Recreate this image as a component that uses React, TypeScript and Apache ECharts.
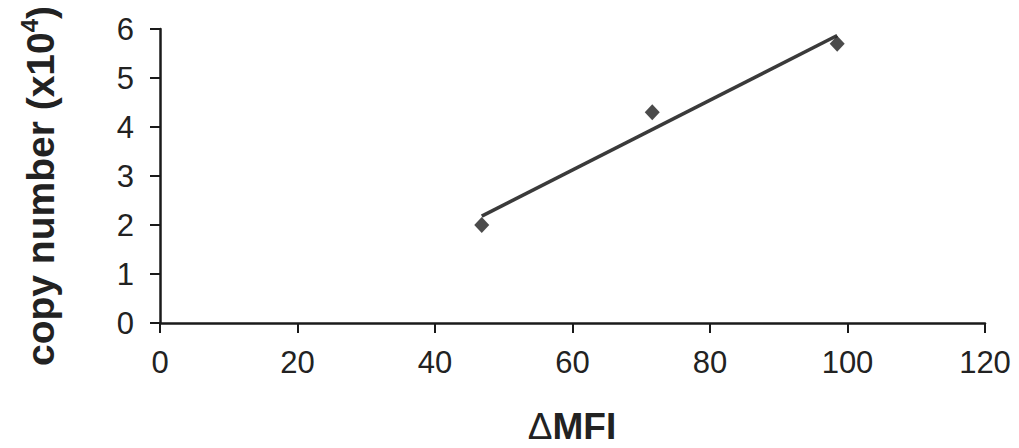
import React, { useEffect, useRef } from "react";
import * as echarts from "echarts";

const mfiValues = [46.8, 71.6, 98.5];
const copyNumbers = [2.0, 4.3, 5.7];
const xTicks = [0, 20, 40, 60, 80, 100, 120];
const yTicks = [0, 1, 2, 3, 4, 5, 6];
const xTitle = "ΔMFI";
const yTitle = "copy number (x10";

function linearFit(xs: number[], ys: number[]) {
  const n = xs.length;
  const mx = xs.reduce((a, b) => a + b, 0) / n;
  const my = ys.reduce((a, b) => a + b, 0) / n;
  let sxy = 0;
  let sxx = 0;
  for (let i = 0; i < n; i++) {
    sxy += (xs[i] - mx) * (ys[i] - my);
    sxx += (xs[i] - mx) * (xs[i] - mx);
  }
  const slope = sxy / sxx;
  return { slope, intercept: my - slope * mx };
}

export default function App() {
  const ref = useRef<HTMLDivElement>(null);
  useEffect(() => {
    document.body.style.margin = "0";
    document.body.style.overflow = "hidden";
    if (!ref.current) return;
    const chart = echarts.init(ref.current, null, { renderer: "svg" });
    const fit = linearFit(mfiValues, copyNumbers);
    const xMin = Math.min(...mfiValues);
    const xMax = Math.max(...mfiValues);
    const trend = [
      [xMin, fit.intercept + fit.slope * xMin],
      [xMax, fit.intercept + fit.slope * xMax],
    ];
    const font = "'Liberation Sans', Arial, sans-serif";
    chart.setOption({
      animation: false,
      backgroundColor: "#ffffff",
      textStyle: { fontFamily: font },
      grid: { left: 160, right: 34, top: 29, bottom: 125 },
      xAxis: {
        type: "value",
        min: xTicks[0],
        max: xTicks[xTicks.length - 1],
        interval: 20,
        splitLine: { show: false },
        axisLine: { show: true, onZero: false, lineStyle: { color: "#1a1a1a", width: 2.5 } },
        axisTick: { show: true, inside: false, length: 10, lineStyle: { color: "#1a1a1a", width: 2 } },
        axisLabel: { color: "#222", fontSize: 31, margin: 24, fontFamily: font },
      },
      yAxis: {
        type: "value",
        min: yTicks[0],
        max: yTicks[yTicks.length - 1],
        interval: 1,
        splitLine: { show: false },
        axisLine: { show: true, onZero: false, lineStyle: { color: "#1a1a1a", width: 2.5 } },
        axisTick: { show: true, inside: false, length: 10, lineStyle: { color: "#1a1a1a", width: 2 } },
        axisLabel: { color: "#222", fontSize: 31, margin: 26, fontFamily: font },
      },
      graphic: [
        {
          type: "text",
          x: 40,
          y: 186,
          rotation: Math.PI / 2,
          style: {
            text: "{m|" + yTitle + "}{s|4}{m|)}",
            align: "center",
            verticalAlign: "middle",
            rich: {
              m: { fontSize: 39, fontWeight: "bold", fill: "#222", fontFamily: font },
              s: { fontSize: 24, fontWeight: "bold", fill: "#222", fontFamily: font, padding: [0, 0, 22, 0] },
            },
          },
        },
        {
          type: "text",
          x: 572,
          y: 426,
          style: {
            text: "{d|" + xTitle.slice(0, 1) + "}{b|" + xTitle.slice(1) + "}",
            align: "center",
            verticalAlign: "middle",
            rich: {
              d: { fontSize: 37, lineHeight: 38, fontWeight: "normal", fill: "#222", fontFamily: font },
              b: { fontSize: 37, lineHeight: 38, fontWeight: "bold", fill: "#222", fontFamily: font },
            },
          },
        },
      ],
      series: [
        {
          type: "line",
          data: trend,
          showSymbol: false,
          symbol: "none",
          lineStyle: { color: "#3a3a3a", width: 3.5 },
          z: 2,
        },
        {
          type: "scatter",
          data: mfiValues.map((x, i) => [x, copyNumbers[i]]),
          symbol: "diamond",
          symbolSize: [15, 16],
          itemStyle: { color: "#1e1e1e" },
          z: 3,
        },
      ],
    });
    return () => chart.dispose();
  }, []);
  return <div ref={ref} style={{ width: 1019, height: 448 }} />;
}
